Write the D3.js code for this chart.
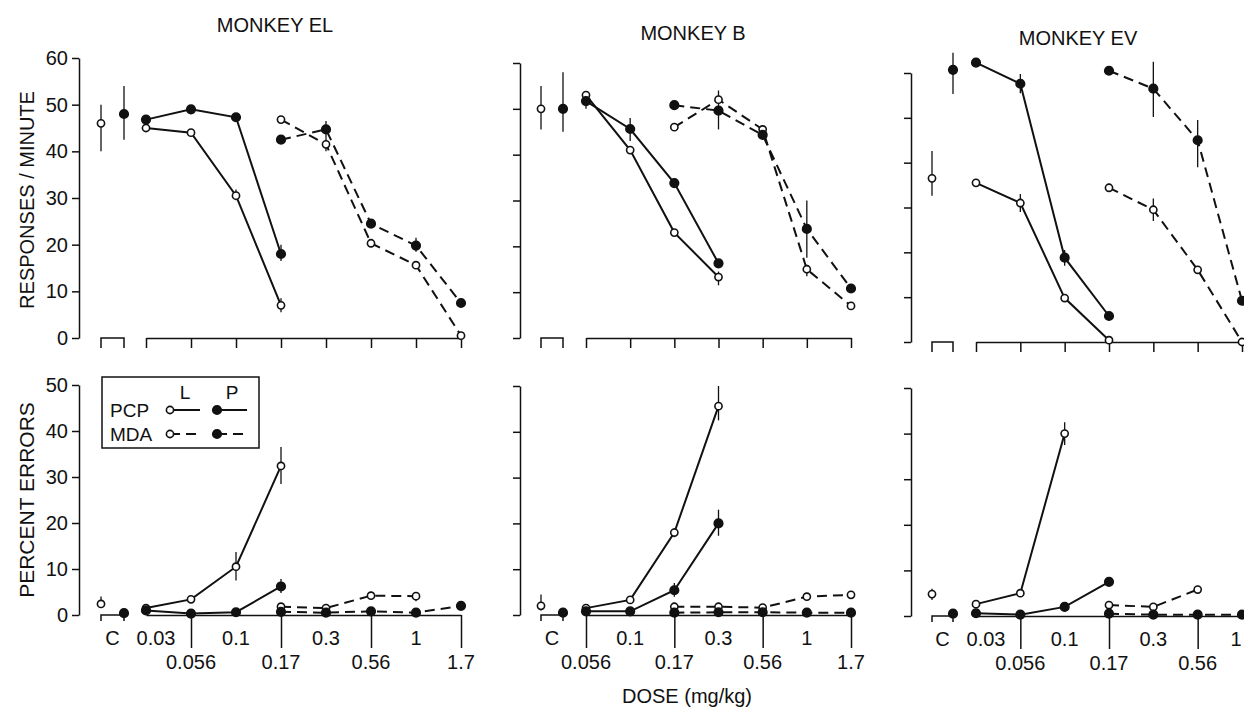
<!DOCTYPE html>
<html>
<head>
<meta charset="utf-8">
<script src="https://cdn.jsdelivr.net/npm/d3@7"></script>
<style>
body { margin: 0; background: #fff; }
svg text { font-family: "Liberation Sans", Arial, sans-serif; fill: #111; }
</style>
</head>
<body>
<svg id="chart" width="1244" height="708"></svg>
<script>
// doses (mg/kg) per monkey
const dosesEL = ["0.03", "0.056", "0.1", "0.17", "0.3", "0.56", "1", "1.7"];
const dosesB = ["0.056", "0.1", "0.17", "0.3", "0.56", "1", "1.7"];
const dosesEV = ["0.03", "0.056", "0.1", "0.17", "0.3", "0.56", "1"];
const row2Labels = ["0.056", "0.17", "0.56", "1.7"];

// responses / minute
const respEL_ctrl = [46, 48]; // L, P
const respEL_pcpL = [45, 44, 30.5, 7, null, null, null, null];
const respEL_pcpP = [46.8, 49, 47.3, 18, null, null, null, null];
const respEL_mdaL = [null, null, null, 46.8, 41.5, 20.3, 15.6, 0.5];
const respEL_mdaP = [null, null, null, 42.5, 44.7, 24.5, 19.8, 7.5];

const respB_ctrl = [50, 50];
const respB_pcpL = [53, 41, 23, 13.3, null, null, null];
const respB_pcpP = [51.7, 45.6, 33.8, 16.3, null, null, null];
const respB_mdaL = [null, null, 46, 52, 45.5, 15, 7];
const respB_mdaP = [null, null, 50.8, 49.6, 44.3, 23.8, 10.8];

const respEV_ctrl = [36.5, 60.7];
const respEV_pcpL = [35.5, 31, 9.8, 0.4, null, null, null];
const respEV_pcpP = [62.3, 57.6, 18.8, 5.8, null, null, null];
const respEV_mdaL = [null, null, null, 34.4, 29.5, 16.1, 0];
const respEV_mdaP = [null, null, null, 60.5, 56.5, 45, 9.2];

// percent errors
const pctEL_ctrl = [2.4, 0.4];
const pctEL_pcpL = [1.5, 3.4, 10.5, 32.4, null, null, null, null];
const pctEL_pcpP = [1, 0.3, 0.6, 6.2, null, null, null, null];
const pctEL_mdaL = [null, null, null, 1.8, 1.5, 4.2, 4.1, null];
const pctEL_mdaP = [null, null, null, 0.7, 0.5, 0.8, 0.5, 2];

const pctB_ctrl = [2, 0.5];
const pctB_pcpL = [1.5, 3.3, 18, 45.6, null, null, null];
const pctB_pcpP = [0.8, 0.8, 5.4, 20, null, null, null];
const pctB_mdaL = [null, null, 1.8, 1.8, 1.6, 4, 4.4];
const pctB_mdaP = [null, null, 0.5, 0.6, 0.6, 0.5, 0.5];

const pctEV_ctrl = [4.8, 0.5];
const pctEV_pcpL = [2.6, 5, 40, null, null, null, null];
const pctEV_pcpP = [0.6, 0.3, 2, 7.5, null, null, null];
const pctEV_mdaL = [null, null, null, 2.4, 2, 5.8, null];
const pctEV_mdaP = [null, null, null, 0.5, 0.3, 0.3, 0.3];

// error bars: [series, dose, low, high]
const respEL_bars = [["L", "C", 40, 50], ["P", "C", 42.5, 54], ["pcpL", "0.17", 5.5, 8.5],
  ["pcpP", "0.17", 16.5, 20], ["pcpL", "0.1", 29.5, 31.8], ["mdaL", "0.3", 40, 43],
  ["mdaP", "0.3", 43, 46.5], ["mdaP", "1", 18.5, 21.5]];
const respB_bars = [["L", "C", 45.5, 55], ["P", "C", 45, 58], ["pcpP", "0.056", 50, 53.5],
  ["pcpP", "0.1", 43, 48], ["pcpL", "0.3", 11.5, 14.5], ["mdaP", "0.3", 45.5, 54],
  ["mdaP", "1", 17.5, 30], ["mdaL", "1", 13.5, 16]];
const respEV_bars = [["L", "C", 32.6, 42.6], ["P", "C", 55.3, 64.5], ["pcpP", "0.056", 55.5, 59.8],
  ["pcpL", "0.056", 29, 33], ["pcpP", "0.1", 17, 20.5], ["mdaP", "0.3", 50.2, 62.5],
  ["mdaP", "0.56", 39, 49.5], ["mdaL", "0.3", 27, 32]];
const pctEL_bars = [["L", "C", 1.5, 4], ["pcpL", "0.1", 7.5, 13.7], ["pcpL", "0.17", 28.5, 36.5],
  ["pcpP", "0.17", 4.8, 7.8], ["mdaL", "1", 3, 5]];
const pctB_bars = [["L", "C", 1, 4.5], ["pcpL", "0.3", 42.5, 50], ["pcpP", "0.3", 17.3, 23],
  ["pcpP", "0.17", 4, 7], ["pcpL", "0.17", 17, 19]];
const pctEV_bars = [["L", "C", 3.5, 6], ["pcpL", "0.1", 37.5, 42.5], ["pcpP", "0.1", 1, 3],
  ["mdaL", "0.56", 4.8, 6.5]];

const titles = ["MONKEY EL", "MONKEY B", "MONKEY EV"];

// layout
const W = 1244;
const layout = [
  { axis: 79, ctrl: [101, 124], dose: [146, 461], top: [338, 58], bot: [615, 385], title: [275, 32] },
  { axis: 520, ctrl: [541, 563], dose: [586, 851], top: [338, 63], bot: [615, 386], title: [693, 40] },
  { axis: 911, ctrl: [932, 953], dose: [976, 1242], top: [342, 73], bot: [616, 388], title: [1078, 45] }
];

const panels = [
  { doses: dosesEL,
    resp: { ctrl: respEL_ctrl, pcpL: respEL_pcpL, pcpP: respEL_pcpP, mdaL: respEL_mdaL, mdaP: respEL_mdaP, bars: respEL_bars },
    pct: { ctrl: pctEL_ctrl, pcpL: pctEL_pcpL, pcpP: pctEL_pcpP, mdaL: pctEL_mdaL, mdaP: pctEL_mdaP, bars: pctEL_bars } },
  { doses: dosesB,
    resp: { ctrl: respB_ctrl, pcpL: respB_pcpL, pcpP: respB_pcpP, mdaL: respB_mdaL, mdaP: respB_mdaP, bars: respB_bars },
    pct: { ctrl: pctB_ctrl, pcpL: pctB_pcpL, pcpP: pctB_pcpP, mdaL: pctB_mdaL, mdaP: pctB_mdaP, bars: pctB_bars } },
  { doses: dosesEV,
    resp: { ctrl: respEV_ctrl, pcpL: respEV_pcpL, pcpP: respEV_pcpP, mdaL: respEV_mdaL, mdaP: respEV_mdaP, bars: respEV_bars },
    pct: { ctrl: pctEV_ctrl, pcpL: pctEV_pcpL, pcpP: pctEV_pcpP, mdaL: pctEV_mdaL, mdaP: pctEV_mdaP, bars: pctEV_bars } }
];

const dash = "10,6";
const styles = {
  pcpL: { dash: null, open: true },
  pcpP: { dash: null, open: false },
  mdaL: { dash: dash, open: true },
  mdaP: { dash: dash, open: false }
};

const ink = "#111";
const svg = d3.select("#chart");

function marker(g, cx, cy, open) {
  g.append("circle")
    .attr("cx", cx).attr("cy", cy)
    .attr("r", open ? 3.6 : 4.3)
    .attr("fill", open ? "#fff" : ink)
    .attr("stroke", ink)
    .attr("stroke-width", 1.6);
}

function drawBlock(g, p, lay, set, isTop, first) {
  let x = d3.scalePoint().domain(p.doses).range(lay.dose);
  let y = d3.scaleLinear().domain([0, isTop ? 60 : 50]).range(isTop ? lay.top : lay.bot);
  let xOf = (s, dose) => dose === "C" ? (s === "L" ? lay.ctrl[0] : lay.ctrl[1]) : x(dose);

  // y axis
  let yAxis = d3.axisLeft(y)
    .tickValues(d3.range(0, (isTop ? 60 : 50) + 1, 10))
    .tickSize(7).tickSizeOuter(0).tickPadding(4)
    .tickFormat(first ? d3.format("d") : "");
  let ya = g.append("g").attr("transform", `translate(${lay.axis},0)`).call(yAxis);
  ya.selectAll("path, line").attr("stroke", ink).attr("stroke-width", 1.5);
  ya.selectAll("text").style("font-size", "20px").attr("fill", ink);

  // dose axis
  let y0 = y(0);
  let xAxis = isTop
    ? d3.axisBottom(x).tickSize(10).tickSizeOuter(0).tickFormat("")
    : d3.axisBottom(x).tickValues(p.doses.filter(d => row2Labels.includes(d)))
        .tickSize(33).tickSizeOuter(0).tickFormat("");
  let xa = g.append("g").attr("transform", `translate(0,${y0})`).call(xAxis);
  xa.selectAll("path, line").attr("stroke", ink).attr("stroke-width", 1.5);

  // control bracket
  let leg = isTop ? 10 : 6;
  g.append("path")
    .attr("d", `M${lay.ctrl[0]},${y0 + leg}V${y0}H${lay.ctrl[1]}V${y0 + leg}`)
    .attr("fill", "none").attr("stroke", ink).attr("stroke-width", 1.5);

  if (!isTop) {
    g.append("text").attr("x", (lay.ctrl[0] + lay.ctrl[1]) / 2).attr("y", y0 + 30)
      .attr("text-anchor", "middle").style("font-size", "20px").text("C");
    g.selectAll(".dl").data(p.doses).enter().append("text")
      .attr("x", d => Math.min(x(d) + (d === "0.03" ? 10 : 0), W - 8))
      .attr("y", d => y0 + (row2Labels.includes(d) ? 54 : 30))
      .attr("text-anchor", "middle").style("font-size", "20px")
      .text(d => d);
  }

  // lines
  let line = d3.line()
    .defined(d => d.v != null)
    .x(d => x(d.dose)).y(d => y(d.v));
  Object.keys(styles).forEach(k => {
    let pts = p.doses.map((dose, i) => ({ dose, v: set[k][i] }));
    g.append("path").datum(pts)
      .attr("d", line)
      .attr("fill", "none").attr("stroke", ink).attr("stroke-width", 2)
      .attr("stroke-dasharray", styles[k].dash);
  });

  // error bars
  set.bars.forEach(b => {
    g.append("line")
      .attr("x1", xOf(b[0], b[1])).attr("x2", xOf(b[0], b[1]))
      .attr("y1", y(b[2])).attr("y2", y(b[3]))
      .attr("stroke", ink).attr("stroke-width", 1.3);
  });

  // markers
  marker(g, lay.ctrl[0], y(set.ctrl[0]), true);
  marker(g, lay.ctrl[1], y(set.ctrl[1]), false);
  Object.keys(styles).forEach(k => {
    p.doses.forEach((dose, i) => {
      let v = set[k][i];
      if (v != null) marker(g, x(dose), y(v), styles[k].open);
    });
  });
}

panels.forEach((p, i) => {
  let lay = layout[i];
  let g = svg.append("g");
  g.append("text").attr("x", lay.title[0]).attr("y", lay.title[1])
    .attr("text-anchor", "middle").style("font-size", "20px").text(titles[i]);
  drawBlock(g, p, lay, p.resp, true, i === 0);
  drawBlock(g, p, lay, p.pct, false, i === 0);
});

// axis titles
svg.append("text").attr("transform", "translate(34,200) rotate(-90)")
  .attr("text-anchor", "middle").style("font-size", "20px").text("RESPONSES / MINUTE");
svg.append("text").attr("transform", "translate(34,500) rotate(-90)")
  .attr("text-anchor", "middle").style("font-size", "21px").text("PERCENT ERRORS");
svg.append("text").attr("x", 687).attr("y", 703)
  .attr("text-anchor", "middle").style("font-size", "20px").text("DOSE (mg/kg)");

// legend
const legendRows = ["PCP", "MDA"];
const legendCols = ["L", "P"];
let lg = svg.append("g");
lg.append("rect").attr("x", 102).attr("y", 377).attr("width", 157).attr("height", 71)
  .attr("fill", "#fff").attr("stroke", ink).attr("stroke-width", 1.5);
legendCols.forEach((c, j) => {
  lg.append("text").attr("x", 185 + j * 47).attr("y", 399)
    .attr("text-anchor", "middle").style("font-size", "19px").text(c);
});
legendRows.forEach((r, i) => {
  let yy = 410 + i * 24;
  lg.append("text").attr("x", 110).attr("y", yy + 7).style("font-size", "19px").text(r);
  legendCols.forEach((c, j) => {
    let x0 = 170 + j * 47;
    lg.append("line").attr("x1", x0).attr("x2", x0 + 30).attr("y1", yy).attr("y2", yy)
      .attr("stroke", ink).attr("stroke-width", 2)
      .attr("stroke-dasharray", i === 1 ? dash : null);
    marker(lg, x0, yy, c === "L");
  });
});
</script>
</body>
</html>
